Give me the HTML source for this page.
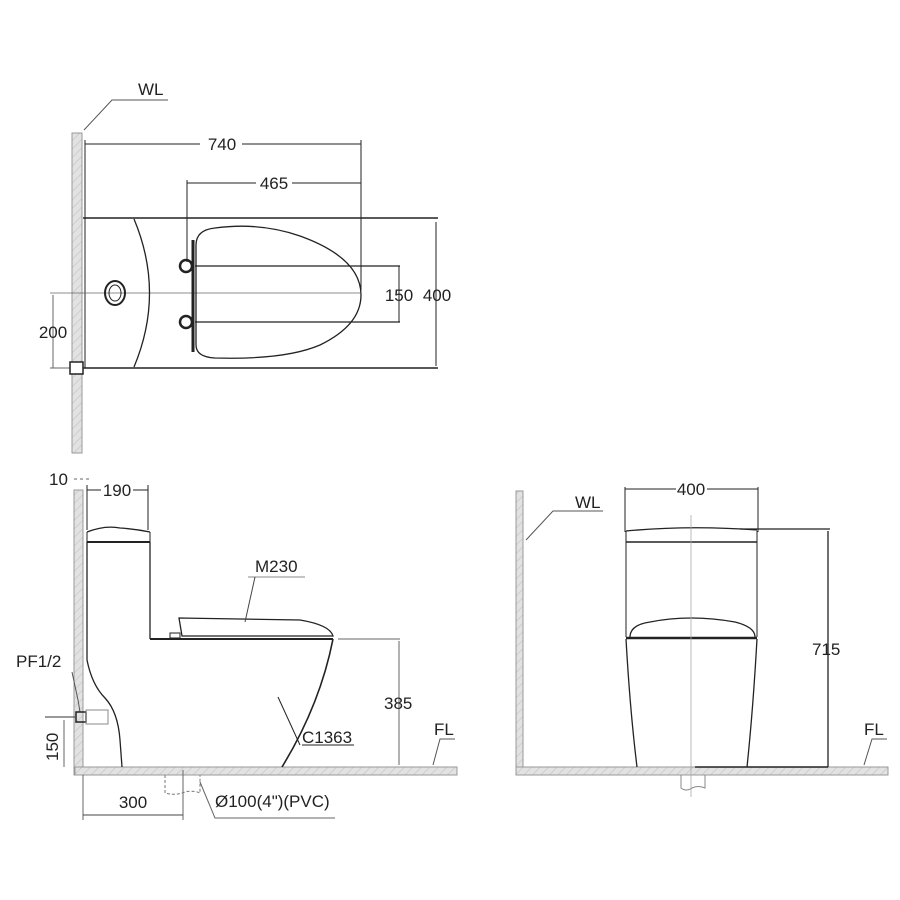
<!DOCTYPE html>
<html><head><meta charset="utf-8"><style>
html,body{margin:0;padding:0;background:#fff;}
svg{display:block;}
text{font-family:"Liberation Sans",sans-serif;fill:#222;font-size:17px;}
</style></head><body>
<svg width="900" height="900" viewBox="0 0 900 900" xmlns="http://www.w3.org/2000/svg">
<defs>
<pattern id="h" width="6" height="6" patternUnits="userSpaceOnUse" patternTransform="rotate(45)">
<rect width="6" height="6" fill="#e2e2e2"/><line x1="0" y1="0" x2="0" y2="6" stroke="#c8c8c8" stroke-width="1.5"/>
</pattern>
</defs>
<g fill="none" stroke="#222" stroke-width="1">
<!-- TOP VIEW -->
<rect x="72" y="133" width="10" height="320" fill="url(#h)" stroke="#999"/>
<polyline points="168,100 112,100 84,130" stroke="#555"/>
<line x1="85" y1="140" x2="85" y2="368"/>
<line x1="361" y1="140" x2="361" y2="290"/>
<line x1="85" y1="144" x2="200" y2="144"/><line x1="242" y1="144" x2="361" y2="144"/>
<line x1="187" y1="180" x2="187" y2="262"/>
<line x1="187" y1="183" x2="256" y2="183"/><line x1="292" y1="183" x2="361" y2="183"/>
<line x1="83" y1="218" x2="438" y2="218" stroke-width="1.5"/>
<line x1="83" y1="368" x2="438" y2="368" stroke-width="1.5"/>
<line x1="436" y1="222" x2="436" y2="366"/>
<line x1="195" y1="266" x2="400" y2="266" stroke-width="1.3"/>
<line x1="195" y1="322" x2="400" y2="322" stroke-width="1.3"/>
<line x1="399" y1="266" x2="399" y2="322"/>
<line x1="50" y1="293" x2="360" y2="293" stroke="#666" stroke-width="0.8"/>
<line x1="53" y1="295" x2="53" y2="368" stroke="#666"/>
<line x1="50" y1="368" x2="72" y2="368" stroke="#666"/>
<path d="M134,219 Q165,293 134,367" stroke-width="1.3"/>
<ellipse cx="115" cy="293" rx="10" ry="12" stroke-width="2"/>
<ellipse cx="115" cy="293" rx="6" ry="8"/>
<path d="M196,245 Q196,230 215,228 Q260,222 300,236 Q361,258 361,295 Q361,325 320,345 Q285,360 215,358 Q196,357 196,345 Z" stroke-width="1.3"/>
<line x1="193" y1="240" x2="193" y2="352" stroke-width="3"/>
<circle cx="186" cy="266" r="6" stroke-width="2.5"/>
<circle cx="186" cy="322" r="6" stroke-width="2.5"/>
<rect x="70" y="362" width="13" height="12" stroke-width="1.5" fill="#fff"/>
<!-- SIDE VIEW -->
<rect x="74" y="490" width="9" height="285" fill="url(#h)" stroke="#999"/>
<rect x="75" y="767" width="382" height="8" fill="url(#h)" stroke="#999"/>
<line x1="74" y1="479" x2="92" y2="479" stroke="#666" stroke-dasharray="3,3"/>
<line x1="87" y1="485" x2="87" y2="530"/>
<line x1="148" y1="485" x2="148" y2="530"/>
<line x1="87" y1="490" x2="101" y2="490"/><line x1="133" y1="490" x2="148" y2="490"/>
<path d="M87,532 Q105,525 120,528 Q135,529 150,532" stroke-width="1.3"/>
<line x1="87" y1="532" x2="87" y2="542"/><line x1="150" y1="532" x2="150" y2="542"/>
<line x1="87" y1="542" x2="150" y2="542" stroke-width="2"/>
<line x1="150" y1="542" x2="150" y2="639" stroke-width="1.3"/>
<line x1="150" y1="639" x2="333" y2="639" stroke-width="2"/>
<path d="M179,618 L300,620 Q330,625 333,636 L182,636 Z" stroke-width="1.3"/>
<rect x="170" y="633" width="10" height="5"/>
<path d="M333,639 Q320,705 282,767" stroke-width="1.6"/>
<path d="M87,542 L87,660 Q92,685 105,698 Q118,712 120,740 L122,767" stroke-width="1.3"/>
<line x1="338" y1="639" x2="400" y2="639" stroke="#666"/>
<line x1="399" y1="641" x2="399" y2="765" stroke="#666"/>
<line x1="248" y1="577" x2="305" y2="577" stroke="#888"/>
<line x1="255" y1="577" x2="245" y2="622" stroke="#444"/>
<line x1="278" y1="697" x2="300" y2="745"/>
<line x1="302" y1="745" x2="354" y2="745"/>
<polyline points="455,739 440,739 433,765" stroke="#555"/>
<polyline points="72,672 78,700 80,712" stroke="#555"/>
<line x1="45" y1="717" x2="75" y2="717" stroke="#333"/>
<rect x="76" y="712" width="10" height="10" stroke-width="1.5"/>
<rect x="86" y="710" width="22" height="14" stroke="#888"/>
<line x1="64" y1="720" x2="64" y2="767" stroke="#666"/>
<line x1="83" y1="775" x2="83" y2="820" stroke="#666"/>
<line x1="183" y1="770" x2="183" y2="820" stroke="#666"/>
<line x1="83" y1="815" x2="183" y2="815" stroke="#444"/>
<path d="M165,775 L165,793 Q175,796 185,792 Q193,790 200,793 L200,775" stroke="#777" stroke-dasharray="3,2"/>
<polyline points="200,782 215,818 335,818" stroke="#666"/>
<!-- FRONT VIEW -->
<rect x="516" y="491" width="7" height="284" fill="url(#h)" stroke="#999"/>
<rect x="516" y="767" width="372" height="8" fill="url(#h)" stroke="#999"/>
<polyline points="603,511 553,511 526,540" stroke="#555"/>
<line x1="625" y1="487" x2="625" y2="532"/>
<line x1="758" y1="487" x2="758" y2="532"/>
<line x1="625" y1="489" x2="676" y2="489"/><line x1="707" y1="489" x2="758" y2="489"/>
<path d="M626,531 Q690,525 757,530" stroke-width="1.3"/>
<line x1="740" y1="529" x2="830" y2="529" stroke-width="1.3"/>
<line x1="626" y1="531" x2="626" y2="637"/><line x1="757" y1="531" x2="757" y2="637"/>
<line x1="626" y1="542" x2="757" y2="542" stroke-width="1.5"/>
<path d="M630,637 Q630,625 650,622 Q690,614 735,622 Q755,627 755,637" stroke-width="1.3"/>
<line x1="626" y1="638" x2="757" y2="638" stroke-width="2.5"/>
<path d="M626,639 Q630,710 637,767" stroke-width="1.3"/>
<path d="M757,639 Q753,710 747,767" stroke-width="1.3"/>
<line x1="691" y1="515" x2="691" y2="797" stroke="#aaa" stroke-width="0.8"/>
<path d="M681,775 L681,788 Q686,792 692,788 Q698,785 705,788 L705,775" stroke="#888"/>
<line x1="828" y1="531" x2="828" y2="767" stroke-width="1.3"/>
<line x1="695" y1="767" x2="828" y2="767" stroke-width="1.5"/>
<polyline points="887,739 872,739 864,765" stroke="#555"/>
</g>
<text x="138" y="95">WL</text>
<text x="222" y="150" text-anchor="middle">740</text>
<text x="274" y="189" text-anchor="middle">465</text>
<text x="399" y="301" text-anchor="middle">150</text>
<text x="437" y="301" text-anchor="middle">400</text>
<text x="53" y="338" text-anchor="middle">200</text>
<text x="49" y="485">10</text>
<text x="117" y="496" text-anchor="middle">190</text>
<text x="255" y="572">M230</text>
<text x="302" y="743">C1363</text>
<text x="384" y="709">385</text>
<text x="434" y="735">FL</text>
<text x="16" y="667">PF1/2</text>
<text x="0" y="0" transform="translate(58,761) rotate(-90)">150</text>
<text x="133" y="808" text-anchor="middle">300</text>
<text x="215" y="807">Ø100(4")(PVC)</text>
<text x="575" y="508">WL</text>
<text x="691" y="495" text-anchor="middle">400</text>
<text x="812" y="655">715</text>
<text x="864" y="735">FL</text>
</svg>
</body></html>
